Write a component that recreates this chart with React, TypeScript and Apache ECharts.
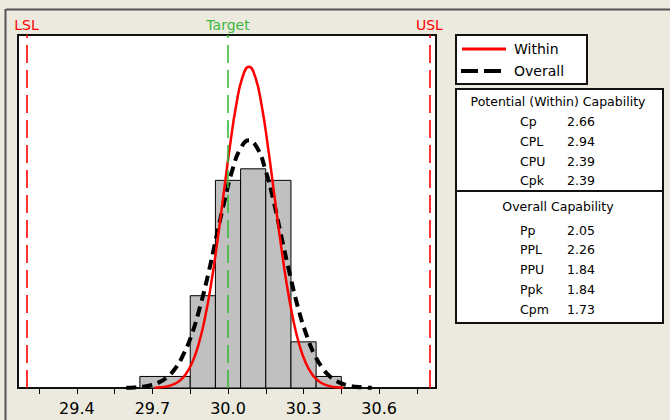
import React, { useEffect, useRef } from "react";
import * as echarts from "echarts";

// Histogram bins (process data)
const binStart = [29.65, 29.85, 29.95, 30.05, 30.15, 30.25, 30.35];
const binEnd = [29.85, 29.95, 30.05, 30.15, 30.25, 30.35, 30.45];
const binCount = [1, 8, 18, 19, 18, 4, 1];

// Within (red) fitted curve
const withinX = [29.708, 29.733, 29.758, 29.783, 29.808, 29.833, 29.858, 29.883, 29.908, 29.933, 29.958, 29.983, 30.008, 30.033, 30.058, 30.083,
  30.108, 30.133, 30.158, 30.183, 30.208, 30.233, 30.258, 30.283, 30.308, 30.333, 30.358, 30.383, 30.408, 30.433, 30.458];
const withinY = [0.025, 0.06, 0.14, 0.31, 0.63, 1.22, 2.21, 3.77, 6.02, 9.04, 12.75, 16.89, 21.01, 24.57, 26.98, 27.84,
  26.98, 24.57, 21.01, 16.89, 12.75, 9.04, 6.02, 3.77, 2.21, 1.22, 0.63, 0.31, 0.14, 0.06, 0.025];

// Overall (black dashed) fitted curve
const overallX = [29.596, 29.628, 29.661, 29.693, 29.726, 29.758, 29.791, 29.823, 29.856, 29.888, 29.921, 29.953, 29.986, 30.018, 30.051, 30.083,
  30.116, 30.148, 30.181, 30.213, 30.246, 30.278, 30.311, 30.343, 30.376, 30.408, 30.441, 30.473, 30.506, 30.538, 30.571];
const overallY = [0.019, 0.047, 0.11, 0.24, 0.49, 0.94, 1.71, 2.91, 4.64, 6.97, 9.83, 13.02, 16.21, 18.95, 20.81, 21.47,
  20.81, 18.95, 16.21, 13.02, 9.83, 6.97, 4.64, 2.91, 1.71, 0.94, 0.49, 0.24, 0.11, 0.047, 0.019];

// Spec limits
const specNames = ["LSL", "Target", "USL"];
const specValues = [29.2, 30.0, 30.8];

// Axis ticks
const tickValues = [29.25, 29.4, 29.55, 29.7, 29.85, 30.0, 30.15, 30.3, 30.45, 30.6, 30.75];
const tickLabels = [29.4, 29.7, 30.0, 30.3, 30.6];

// Capability table
const potentialTitle = "Potential (Within) Capability";
const potentialLabels = ["Cp", "CPL", "CPU", "Cpk"];
const potentialValues = ["2.66", "2.94", "2.39", "2.39"];
const overallTitle = "Overall Capability";
const overallLabels = ["Pp", "PPL", "PPU", "Ppk", "Cpm"];
const overallValues = ["2.05", "2.26", "1.84", "1.84", "1.73"];

const legendNames = ["Within", "Overall"];

const FONT = "DejaVu Sans";

export default function App() {
  const ref = useRef<HTMLDivElement>(null);
  useEffect(() => {
    if (!ref.current) return;
    const chart = echarts.init(ref.current, undefined, { renderer: "svg" });

    const histData = binStart.map((s, i) => [s, binEnd[i], binCount[i]]);
    const withinData = withinX.map((x, i) => [x, withinY[i]]);
    const overallData = overallX.map((x, i) => [x, overallY[i]]);
    const specColors = ["#ff0000", "#3cb83c", "#ff0000"];

    const graphics: any[] = [];
    // outer frame
    graphics.push({ type: "line", shape: { x1: 6, y1: 9.5, x2: 670, y2: 9.5 }, style: { stroke: "#555", lineWidth: 2 } });
    graphics.push({ type: "line", shape: { x1: 5.5, y1: 9, x2: 5.5, y2: 420 }, style: { stroke: "#555", lineWidth: 2 } });
    // legend box
    graphics.push({ type: "rect", shape: { x: 456, y: 35, width: 131, height: 49 }, style: { fill: "#fff", stroke: "#111", lineWidth: 2 } });
    graphics.push({ type: "line", shape: { x1: 462, y1: 49, x2: 506, y2: 49 }, style: { stroke: "#ff0000", lineWidth: 3 } });
    graphics.push({ type: "line", shape: { x1: 461, y1: 71, x2: 507, y2: 71 }, style: { stroke: "#000", lineWidth: 4, lineDash: [17, 6] } });
    legendNames.forEach((n, i) => {
      graphics.push({ type: "text", x: 514, y: 49 + i * 22, style: { text: n, font: `14px "${FONT}"`, fill: "#000", verticalAlign: "middle", align: "left" } });
    });
    // table box
    graphics.push({ type: "rect", shape: { x: 456, y: 89, width: 207, height: 234 }, style: { fill: "#fff", stroke: "#111", lineWidth: 2 } });
    graphics.push({ type: "line", shape: { x1: 456, y1: 191, x2: 663, y2: 191 }, style: { stroke: "#111", lineWidth: 2 } });
    const tfont = `12.5px "${FONT}"`;
    graphics.push({ type: "text", x: 558, y: 101, style: { text: potentialTitle, font: tfont, fill: "#000", align: "center", verticalAlign: "middle" } });
    potentialLabels.forEach((l, i) => {
      const y = 121.5 + i * 19.8;
      graphics.push({ type: "text", x: 520, y, style: { text: l, font: tfont, fill: "#000", align: "left", verticalAlign: "middle" } });
      graphics.push({ type: "text", x: 567, y, style: { text: potentialValues[i], font: tfont, fill: "#000", align: "left", verticalAlign: "middle" } });
    });
    graphics.push({ type: "text", x: 558, y: 206, style: { text: overallTitle, font: tfont, fill: "#000", align: "center", verticalAlign: "middle" } });
    overallLabels.forEach((l, i) => {
      const y = 230 + i * 19.8;
      graphics.push({ type: "text", x: 520, y, style: { text: l, font: tfont, fill: "#000", align: "left", verticalAlign: "middle" } });
      graphics.push({ type: "text", x: 567, y, style: { text: overallValues[i], font: tfont, fill: "#000", align: "left", verticalAlign: "middle" } });
    });

    chart.setOption({
      animation: false,
      backgroundColor: "#ECE9DE",
      textStyle: { fontFamily: FONT },
      grid: {
        left: 18, top: 35, right: 234, bottom: 32,
        show: true, backgroundColor: "#fff", borderColor: "#111", borderWidth: 2,
      },
      xAxis: {
        type: "value",
        min: 29.166,
        max: 30.826,
        splitLine: { show: false },
        axisLine: { show: true, onZero: false, lineStyle: { color: "#111", width: 2 } },
        axisTick: { show: true, customValues: tickValues, length: 6, lineStyle: { color: "#000", width: 1 } },
        axisLabel: {
          customValues: tickLabels,
          formatter: (v: number) => v.toFixed(1),
          fontSize: 16, color: "#000", margin: 12, fontFamily: FONT,
        },
      },
      yAxis: { type: "value", min: 0, max: 30.6, show: false, splitLine: { show: false } },
      graphic: graphics,
      series: [
        {
          type: "line",
          name: "spec",
          data: [],
          z: 1,
          markLine: {
            silent: true,
            symbol: "none",
            data: specValues.map((v, i) => ({
              xAxis: v,
              name: specNames[i],
              lineStyle: { color: specColors[i], type: [18, 7], width: 1.6 },
              label: { show: true, position: "end", formatter: "{b}", color: specColors[i], fontSize: 14, fontFamily: FONT, distance: 3 },
            })),
          },
        },
        {
          type: "custom",
          name: "hist",
          z: 2,
          data: histData,
          encode: { x: [0, 1], y: 2 },
          renderItem: (params: any, api: any) => {
            const p0 = api.coord([api.value(0), api.value(2)]);
            const p1 = api.coord([api.value(1), 0]);
            return {
              type: "rect",
              shape: { x: p0[0], y: p0[1], width: p1[0] - p0[0], height: p1[1] - p0[1] },
              style: { fill: "#C0C0C0", stroke: "#000", lineWidth: 1 },
            };
          },
        },
        {
          type: "line",
          name: "Overall",
          z: 3,
          data: overallData,
          showSymbol: false,
          smooth: true,
          lineStyle: { color: "#000", width: 4, type: [10, 6] },
        },
        {
          type: "line",
          name: "Within",
          z: 4,
          data: withinData,
          showSymbol: false,
          smooth: true,
          lineStyle: { color: "#ff0000", width: 2.5 },
        },
      ],
    });
    return () => chart.dispose();
  }, []);
  return <div ref={ref} style={{ position: "absolute", left: 0, top: 0, width: 670, height: 420 }} />;
}
